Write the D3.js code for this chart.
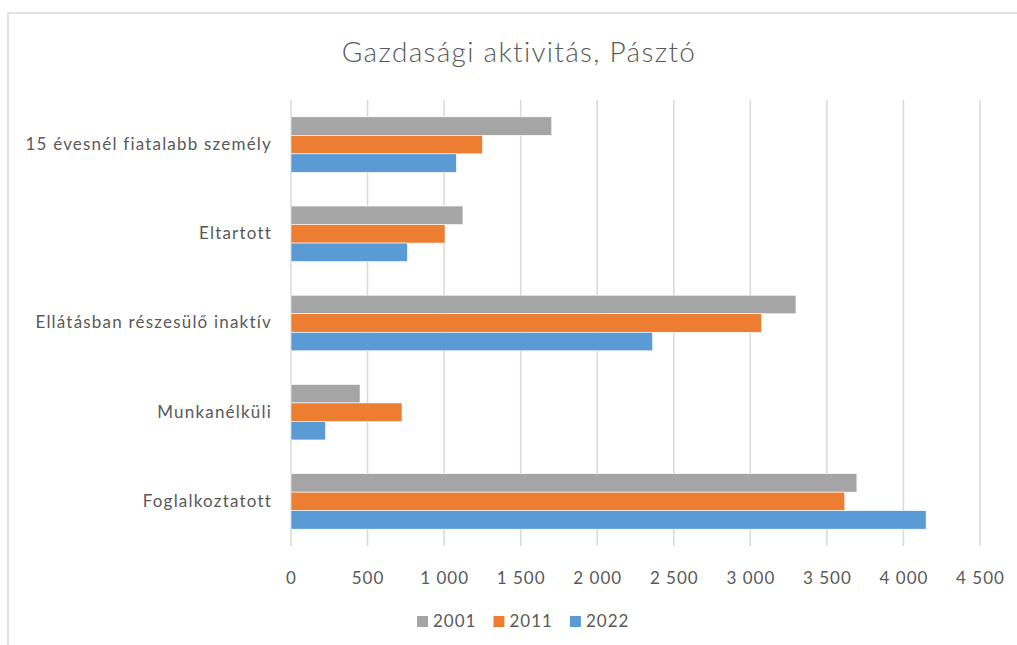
<!DOCTYPE html>
<html lang="hu">
<head>
  <meta charset="UTF-8">
  <title>Gazdasági aktivitás, Pásztó</title>
  <script src="https://d3js.org/d3.v7.min.js"></script>
  <style>
    body { margin: 0; background: #fff; }
    svg text { font-family: Lato, "Open Sans", sans-serif; fill: #595959; }
  </style>
</head>
<body>
<svg id="chart" width="1017" height="645"></svg>
<script>
const categories = ["15 évesnél fiatalabb személy", "Eltartott", "Ellátásban részesülő inaktív", "Munkanélküli", "Foglalkoztatott"];
const years = ["2001", "2011", "2022"];
const values2001 = [1703, 1123, 3298, 451, 3696];
const values2011 = [1250, 1006, 3074, 725, 3617];
const values2022 = [1080, 760, 2362, 226, 4148];
const xTicks = [0, 500, 1000, 1500, 2000, 2500, 3000, 3500, 4000, 4500];
const colors = ["#a5a5a5", "#ed7d31", "#5b9bd5"];

const series = [values2001, values2011, values2022];

const svg = d3.select("#chart");
const plot = { left: 291, right: 980, top: 100, bottom: 546 };

// chart frame (right and bottom edges run off the window)
svg.append("rect")
  .attr("x", 8).attr("y", 13)
  .attr("width", 1030).attr("height", 650)
  .attr("fill", "#fff")
  .attr("stroke", "#d9d9d9").attr("stroke-width", 1.5);

svg.append("text")
  .attr("x", 519).attr("y", 62)
  .attr("text-anchor", "middle")
  .style("font-size", "28px")
  .style("font-weight", 300)
  .style("letter-spacing", "1.3px")
  .text("Gazdasági aktivitás, Pásztó");

const x = d3.scaleLinear().domain([0, 4500]).range([plot.left, plot.right]);
const y = d3.scaleBand().domain(categories).range([plot.top, plot.bottom]);
const inner = d3.scaleBand().domain(years).range([0, y.bandwidth()]).paddingOuter(0.91);

const huLocale = d3.formatLocale({ decimal: ",", thousands: "\u00a0", grouping: [3], currency: ["", " Ft"] });
const fmt = huLocale.format(",d");

// vertical gridlines
svg.append("g")
  .selectAll("line")
  .data(xTicks)
  .join("line")
  .attr("x1", d => x(d)).attr("x2", d => x(d))
  .attr("y1", plot.top).attr("y2", plot.bottom)
  .attr("stroke", "#d9d9d9").attr("stroke-width", 1.5);

// x tick labels
const xAxis = svg.append("g")
  .attr("transform", `translate(0,${plot.bottom})`)
  .call(d3.axisBottom(x).tickValues(xTicks).tickFormat(fmt).tickSize(0).tickPadding(26));
xAxis.select(".domain").remove();
xAxis.selectAll("text")
  .style("font-size", "17px").style("fill", "#595959")
  .style("font-family", "Lato, sans-serif").style("letter-spacing", "1px");

// category labels
const yAxis = svg.append("g")
  .attr("transform", `translate(${plot.left},0)`)
  .call(d3.axisLeft(y).tickSize(0).tickPadding(19));
yAxis.select(".domain").remove();
yAxis.selectAll("text")
  .style("font-size", "17px").style("fill", "#595959")
  .style("font-family", "Lato, sans-serif").style("letter-spacing", "1.2px");

// bars
const groups = svg.append("g")
  .selectAll("g")
  .data(categories)
  .join("g")
  .attr("transform", d => `translate(0,${y(d)})`);

groups.selectAll("rect")
  .data((c, i) => years.map((yr, j) => ({ year: yr, value: series[j][i], color: colors[j] })))
  .join("rect")
  .attr("x", x(0))
  .attr("y", d => inner(d.year))
  .attr("width", d => x(d.value) - x(0))
  .attr("height", inner.bandwidth())
  .attr("fill", d => d.color)
  .attr("stroke", "#fff").attr("stroke-width", 0.6);

// legend
const legend = svg.append("g").attr("transform", "translate(417,616)");
let lx = 0;
years.forEach((yr, j) => {
  const item = legend.append("g").attr("transform", `translate(${lx},0)`);
  item.append("rect").attr("width", 11).attr("height", 11).attr("fill", colors[j]);
  const t = item.append("text")
    .attr("x", 16).attr("y", 11)
    .style("font-size", "17px")
    .style("letter-spacing", "1px")
    .text(yr);
  lx += 16 + t.node().getComputedTextLength() + 17;
});
</script>
</body>
</html>
